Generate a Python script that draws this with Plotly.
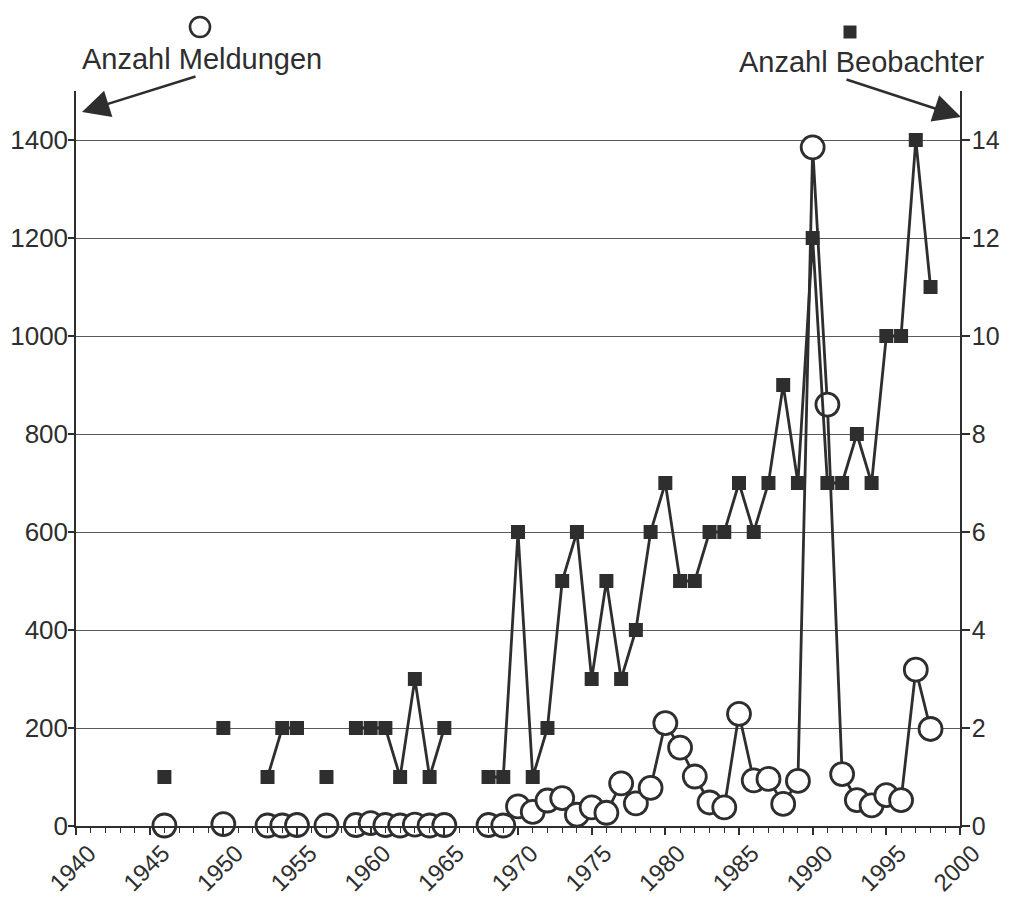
import plotly.graph_objects as go

# ---- data ----
years = list(range(1946, 1999))

# Anzahl Meldungen (left axis); None = no data for that year
meldungen = [
    1, None, None, None, 4, None, None, 1, 1, 2,          # 1946-1955
    None, 1, None, 2, 6, 2, 1, 3, 1, 2,                   # 1956-1965
    None, None, 2, 1, 40, 29, 52, 57, 23, 38,             # 1966-1975
    27, 87, 46, 78, 210, 160, 101, 48, 38, 229,           # 1976-1985
    93, 96, 45, 92, 1385, 860, 106, 53, 42, 63,           # 1986-1995
    53, 319, 198,                                         # 1996-1998
]

# Anzahl Beobachter (right axis)
beobachter = [
    1, None, None, None, 2, None, None, 1, 2, 2,          # 1946-1955
    None, 1, None, 2, 2, 2, 1, 3, 1, 2,                   # 1956-1965
    None, None, 1, 1, 6, 1, 2, 5, 6, 3,                   # 1966-1975
    5, 3, 4, 6, 7, 5, 5, 6, 6, 7,                         # 1976-1985
    6, 7, 9, 7, 12, 7, 7, 8, 7, 10,                       # 1986-1995
    10, 14, 11,                                           # 1996-1998
]

x_ticks = list(range(1940, 2001, 5))
left_ticks = list(range(0, 1401, 200))
right_ticks = list(range(0, 15, 2))

INK = "#2e2e2e"
FONT = "Liberation Sans, Arial, Helvetica, sans-serif"

# page body has an 8px default margin; work in page pixels and compensate
OFF = 8
W, H = 1001, 890
L = 76 - OFF          # plot left  (page x 76)
T = 91 - OFF          # plot top   (page y 91)
R = W - (960 - OFF)   # plot right (page x 960)
B = H - (826 - OFF)   # plot bottom (page y 826)
pw, ph = W - L - R, H - T - B


def px(xp):
    return (xp - OFF - L) / pw


def py(yp):
    return (H - B - (yp - OFF)) / ph


fig = go.Figure()

fig.add_trace(go.Scatter(
    x=years, y=beobachter, yaxis="y2", mode="lines+markers",
    connectgaps=False, cliponaxis=False,
    line=dict(color=INK, width=2.8),
    marker=dict(symbol="square", size=14, color=INK),
    name="Anzahl Beobachter", showlegend=False,
))

fig.add_trace(go.Scatter(
    x=years, y=meldungen, yaxis="y", mode="lines+markers",
    connectgaps=False, cliponaxis=False,
    line=dict(color=INK, width=2.8),
    marker=dict(symbol="circle", size=23, color="white",
                line=dict(color=INK, width=2.8)),
    name="Anzahl Meldungen", showlegend=False,
))

fig.update_layout(
    width=W, height=H,
    margin=dict(l=L, r=R, t=T, b=B, pad=0, autoexpand=False),
    paper_bgcolor="white", plot_bgcolor="white",
    font=dict(family=FONT, size=26, color=INK),
    xaxis=dict(
        range=[1940, 2000], tickvals=x_ticks, tickangle=-45,
        ticks="outside", ticklen=7, tickwidth=1.5, tickcolor=INK,
        minor=dict(dtick=1, tick0=1940, ticks="outside", ticklen=5,
                   tickwidth=1.2, tickcolor=INK, showgrid=False),
        showline=True, linecolor=INK, linewidth=1.5,
        showgrid=False, zeroline=False, automargin=False,
        tickfont=dict(size=24, color=INK),
        ticklabelshift=13, ticklabelstandoff=-5,
    ),
    yaxis=dict(
        range=[0, 1500], tickvals=left_ticks,
        ticks="outside", ticklen=6, tickwidth=1.5, tickcolor=INK,
        showline=True, linecolor=INK, linewidth=1.5,
        showgrid=True, gridcolor="#5a5a5a", gridwidth=1,
        zeroline=False, automargin=False,
        tickfont=dict(size=26, color=INK),
        ticklabelstandoff=-5,
    ),
    yaxis2=dict(
        range=[0, 15], tickvals=right_ticks, overlaying="y", side="right",
        ticks="outside", ticklen=8, tickwidth=1.5, tickcolor=INK,
        showline=True, linecolor=INK, linewidth=1.5,
        showgrid=False, zeroline=False, automargin=False,
        tickfont=dict(size=25, color=INK),
        ticklabelstandoff=-3,
    ),
)

annotations = [
    dict(x=px(202), y=py(59), xref="paper", yref="paper",
         text="Anzahl Meldungen", showarrow=False,
         font=dict(size=29, color=INK, family=FONT),
         xanchor="center", yanchor="middle"),
    dict(x=px(861), y=py(62), xref="paper", yref="paper",
         text="Anzahl Beobachter", showarrow=False,
         font=dict(size=29, color=INK, family=FONT),
         xanchor="center", yanchor="middle"),
    dict(x=px(82), y=py(112), xref="paper", yref="paper", text="",
         showarrow=True, ax=115, ay=-36, arrowhead=2, arrowsize=2.2,
         arrowwidth=2.5, arrowcolor=INK),
    dict(x=px(961), y=py(117), xref="paper", yref="paper", text="",
         showarrow=True, ax=-116, ay=-38, arrowhead=2, arrowsize=2.2,
         arrowwidth=2.5, arrowcolor=INK),
]
fig.update_layout(annotations=annotations)

fig.add_shape(type="circle", xref="paper", yref="paper",
              xsizemode="pixel", ysizemode="pixel",
              xanchor=px(200), yanchor=py(27),
              x0=-10, x1=10, y0=-10, y1=10,
              line=dict(color=INK, width=2.6), fillcolor="white")
fig.add_shape(type="rect", xref="paper", yref="paper",
              xsizemode="pixel", ysizemode="pixel",
              xanchor=px(850), yanchor=py(32),
              x0=-6.5, x1=6.5, y0=-6.5, y1=6.5,
              line=dict(color=INK, width=0), fillcolor=INK)

fig.write_html("out.html")
